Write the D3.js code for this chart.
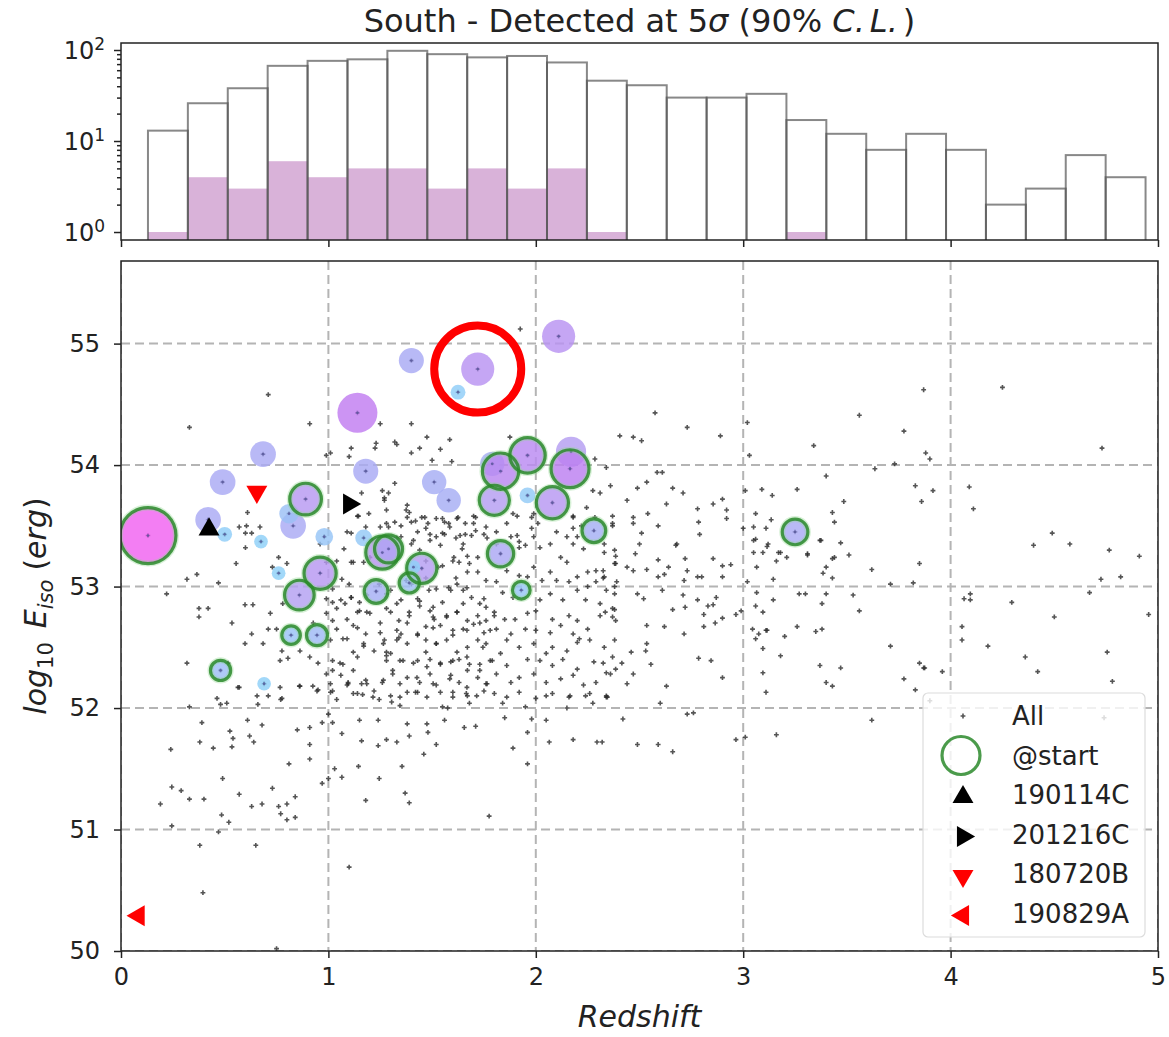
<!doctype html>
<html lang='en'>
<head>
<meta charset='UTF-8'>
<title>South - Detected at 5 sigma</title>
<style>
  body, html { margin: 0; padding: 0; background: #fff; }
  svg { display: block; font-family: 'DejaVu Sans', sans-serif; }
  .grid line { stroke: #b4b4b4; stroke-width: 2; stroke-dasharray: 9,5; }
  .axis path { display: none; }
  .axis line { stroke: #222; stroke-width: 1.5; }
  .axis text { font-size: 24px; fill: #222; font-family: 'DejaVu Sans', sans-serif; }
  .frame { fill: none; stroke: #222; stroke-width: 1.5; }
</style>
</head>
<body>
<script src='https://cdn.jsdelivr.net/npm/d3@7'></script>
<script>
  // ---- histogram (redshift, log counts) ----
  const histLo = 0.13
  const histHi = 4.94
  const histAll = [13, 26, 38, 67, 76, 79, 98, 90, 83, 86, 73, 46, 41, 30, 30, 33, 17, 12, 8, 12, 8, 2, 3, 7, 4]
  const histDet = [1, 4, 3, 6, 4, 5, 5, 3, 5, 3, 5, 1, 0, 0, 0, 0, 1, 0, 0, 0, 0, 0, 0, 0, 0]

  // ---- all GRBs of the population: [redshift, log10 Eiso] ----
  const allGrb = [
    [0.395,50.48],[0.75,50.02],[1.10,50.69],[0.38,50.87],[0.65,50.87],[0.245,51.03],[0.47,50.98],
    [0.19,51.21],[0.245,51.35],[0.29,51.32],[0.33,51.25],[0.40,51.25],[0.485,51.12],[0.52,51.06],[0.49,51.42],
    [0.57,51.29],[0.63,51.19],[0.68,51.21],[0.73,51.34],[0.76,51.19],[0.77,51.13],[0.80,51.21],[0.80,51.08],
    [0.84,51.10],[0.84,51.27],[0.81,51.54],[0.91,51.58],[0.97,51.38],
    [0.24,51.66],[0.38,51.72],[0.39,51.88],[0.445,51.67],[0.525,51.81],[0.54,51.75],[0.535,51.68],[0.61,51.90],
    [0.62,51.77],[0.64,51.72],[0.68,51.86],[0.85,51.82],[0.91,51.84],[0.91,51.70],[0.97,51.88],[1.00,51.95],
    [1.02,51.88],[1.065,51.79],[1.16,51.73],[1.24,51.69],[1.28,51.74],[1.33,51.72],[1.24,51.90],[1.15,51.90],
    [1.00,51.42],[1.03,51.50],[1.065,51.43],[1.145,51.52],[1.18,51.24],[1.245,51.42],
    [0.33,52.01],[0.48,52.03],[0.66,52.03],[0.71,52.10],[0.77,52.07],[0.57,52.17],[0.86,52.18],[0.925,52.18],
    [0.95,52.15],[1.01,52.20],[1.04,52.07],[1.095,52.20],[1.165,52.11],[1.16,52.20],[1.245,52.07],
    [1.355,51.52],[1.37,51.30],[1.39,51.22],[1.46,51.62],[1.52,51.70],[1.48,51.80],[1.39,51.77],[1.38,51.87],
    [1.475,51.87],[1.56,51.90],[1.655,51.84],[1.71,51.85],[1.775,51.11],[1.85,51.92],[1.89,51.67],[1.96,51.80],
    [1.96,51.54],[1.98,51.91],[2.05,51.90],[2.065,51.72],[2.18,51.74],[2.295,51.72],[2.32,51.72],[2.42,51.91],
    [1.305,52.05],[1.345,52.02],[1.55,52.01],[1.575,52.00],[1.68,52.04],[1.665,52.12],[1.84,52.04],[1.95,52.01],
    [2.05,52.10],[2.165,52.10],[2.24,52.10],[2.275,52.04],[2.345,52.09],[2.15,52.00],[1.42,52.13],
    [2.73,51.95],[2.76,51.96],[2.49,51.70],[2.59,51.70],[2.66,51.64],[2.965,51.74],[3.01,51.76],[3.16,51.78],[3.62,51.90],
    [0.22,52.94],[0.318,53.06],[0.366,53.10],[0.47,53.03],[0.376,52.82],[0.42,52.82],[0.376,52.75],[0.598,52.85],
    [0.636,52.85],[0.72,52.78],[0.78,52.86],[0.71,52.65],[0.75,52.65],[0.63,52.61],[0.535,52.70],[0.598,52.53],
    [0.685,52.53],[0.776,52.47],[0.805,52.41],[0.863,52.47],[0.91,52.42],[0.767,52.39],[0.95,52.37],[0.318,52.37],
    [0.516,52.37],[0.564,52.17],[0.767,52.17],[0.863,52.18],[0.945,52.14],[0.776,52.08],[0.463,52.08],[0.656,52.10],
    [0.51,52.04],[1.07,52.57],[1.056,52.37],[1.02,52.31],[1.095,52.21],[1.02,52.14],[0.927,52.70],[1.02,52.72],
    [1.08,52.86],[1.14,52.79],[1.11,52.91],[1.02,52.87],[0.99,52.90],[1.10,53.02],[1.185,52.93],[1.28,52.94],
    [1.185,52.79],[1.25,52.70],[1.30,52.79],[1.33,52.64],[1.265,52.53],[1.28,52.46],[1.33,52.56],[1.38,52.70],
    [1.39,52.79],[1.44,52.88],[1.505,52.83],[1.55,52.87],[1.57,52.75],[1.505,52.66],[1.47,52.56],[1.52,52.53],
    [1.60,52.60],[1.668,52.64],[1.73,52.70],[1.78,52.64],[1.80,52.79],[1.73,52.86],[1.65,52.86],[1.62,52.79],
    [1.745,52.50],[1.668,52.42],[1.60,52.39],[1.54,52.37],[1.475,52.34],[1.41,52.37],[1.345,52.39],[1.31,52.31],
    [1.28,52.39],[1.265,52.23],[1.345,52.20],[1.427,52.25],[1.505,52.20],[1.585,52.24],[1.668,52.17],[1.765,52.20],
    [1.73,52.31],[1.79,52.39],[1.185,52.20],[1.12,52.12],[1.215,52.09],[1.345,52.09],[1.475,52.09],[1.60,52.09],
    [1.715,52.10],[1.14,52.66],[1.17,52.53],[1.12,52.46],[1.505,52.75],
    [0.57,53.49],[0.63,53.44],[0.555,53.19],[0.60,53.32],[0.73,53.16],[0.76,53.24],[0.80,53.19],[0.99,53.20],
    [1.04,53.21],[1.075,53.31],[1.065,53.06],[1.11,53.20],[1.18,53.49],[1.16,53.77],[1.195,53.60],[1.28,53.63],
    [1.32,53.53],[1.375,53.63],[1.40,53.53],[1.45,53.57],[1.52,53.56],[1.47,53.48],[1.55,53.44],[1.58,53.52],
    [1.615,53.40],[1.66,53.52],[1.71,53.46],[1.40,53.35],[1.44,53.30],[1.54,53.34],[1.605,53.24],[1.53,53.16],
    [1.47,53.07],[1.615,53.07],[1.668,52.99],[1.58,52.99],[1.485,52.97],[1.68,53.19],[1.645,53.31],[1.40,53.02],
    [1.375,53.05],[1.245,53.02],[1.21,53.38],[1.11,53.44],[1.42,53.16],[1.47,53.21],
    [1.11,54.14],[1.23,54.18],[1.44,54.14],[1.475,54.23],[0.99,54.08],[1.40,54.10],[1.50,54.04],
    [0.71,54.58],[0.33,54.31],[0.91,54.34],[1.25,54.34],[1.225,54.14],[1.10,54.07],[1.32,54.19],[1.27,53.73],
    [1.29,53.77],[1.145,53.58],[0.61,53.61],[0.605,53.50],[0.67,53.49],[0.60,53.44],[1.01,54.10],[0.96,53.35],
    [1.925,55.12],[2.575,54.43],[2.73,54.31],[2.89,54.24],[3.02,54.35],[1.40,54.34],[1.33,54.17],[1.54,54.13],
    [1.585,54.21],[1.595,54.03],[2.405,54.24],[2.47,54.23],[2.51,54.20],[1.875,54.23],[2.285,54.05],[2.34,53.98],
    [2.36,53.83],[2.49,53.81],[2.535,53.86],[2.585,53.94],[2.61,53.94],[2.275,53.79],[2.245,53.65],[2.18,53.57],
    [2.44,53.71],[2.47,53.57],[2.54,53.60],[2.63,53.68],[2.66,53.81],[2.71,53.77],[2.78,53.64],[2.855,53.68],
    [2.92,53.63],[2.90,53.72],[3.01,53.79],[3.09,53.80],[3.14,53.75],[3.03,54.08],[2.68,53.35],[2.79,53.43],
    [2.92,53.56],[3.00,53.48],[3.11,53.48],[3.05,53.38],[3.12,53.35],[3.06,53.60],[2.37,53.52],[2.18,53.35],
    [1.89,53.60],[1.91,53.42],[1.98,53.57],[1.98,53.48],[2.18,53.48],[2.285,53.57],[2.31,53.77],[1.26,53.79],
    [1.32,53.85],[1.27,53.71],[1.38,53.67],[1.39,53.61],[1.465,53.57],[1.55,53.56],[1.585,53.49],[1.625,53.57],
    [1.70,53.58],[1.70,53.52],[1.635,53.42],[1.49,53.43],[1.41,53.38],[1.33,53.40],[1.29,53.49],[1.765,53.40],
    [1.81,53.35],[1.65,53.35],
    [3.87,54.62],[4.25,54.64],[3.56,54.41],[3.775,54.28],[3.34,54.16],[3.88,54.10],[3.90,54.05],[4.73,54.14],
    [3.635,53.97],[3.73,54.01],[3.40,53.91],[3.83,53.83],[3.915,53.79],[3.86,53.70],[4.09,53.82],[4.11,53.64],
    [3.485,53.70],[3.43,53.61],[3.44,53.53],[3.26,53.80],[3.135,53.55],[3.375,53.38],[3.47,53.36],[3.51,53.26],
    [3.31,53.26],[3.18,53.28],[3.21,53.24],[3.095,53.28],[3.115,53.33],[3.16,53.21],[3.44,53.24],[3.40,53.16],
    [3.385,53.11],[3.43,53.07],[3.62,53.14],[3.85,53.19],[3.82,53.03],[3.71,53.02],[3.145,53.06],[3.30,52.94],
    [3.40,52.94],[3.53,52.93],[3.145,52.89],[3.38,52.86],[3.56,52.80],[3.095,52.79],[3.115,52.64],[3.20,52.59],
    [3.26,52.67],[3.35,52.63],[3.38,52.65],[3.095,52.49],[3.18,52.43],[3.37,52.35],[3.47,52.33],[3.71,52.51],
    [3.85,52.37],[3.87,52.33],[3.96,52.30],[3.775,52.24],[3.095,52.29],
    [4.065,52.90],[4.095,52.94],[4.095,52.89],[4.295,52.87],[4.40,53.34],[4.49,53.44],[4.575,53.35],[4.765,53.30],
    [4.91,53.25],[4.725,53.06],[4.82,53.08],[4.67,52.95],[4.50,52.75],[4.955,52.77],[4.055,52.67],[4.055,52.56],
    [4.18,52.51],[4.755,52.46],[4.36,52.42],[4.42,52.30],[4.74,51.92],[4.78,52.22],[3.90,52.06],
    [2.47,53.52],[2.59,53.50],[2.785,53.53],[2.51,53.44],[2.50,53.35],[2.675,53.34],[2.33,53.28],[2.385,53.25],
    [2.48,53.27],[2.59,53.22],[2.72,53.23],[2.855,53.23],[2.385,53.19],[2.44,53.16],[2.47,53.13],[2.535,53.14],
    [2.59,53.08],[2.62,53.10],[2.64,53.16],[2.73,53.13],[2.90,53.17],[2.94,53.18],[2.325,53.13],[2.325,53.07],
    [2.39,53.04],[2.78,53.08],[2.80,53.08],[2.715,53.05],[2.90,53.08],[3.02,53.04],[3.065,53.16],[3.05,53.28],
    [3.06,53.39],[3.05,53.49],[3.17,53.28],[3.31,53.27],[3.37,53.38],[3.43,53.23],
    [2.38,52.94],[2.49,52.94],[2.52,52.90],[2.61,52.97],[2.71,52.93],[2.78,52.89],[2.83,52.84],[2.87,52.91],
    [2.335,52.79],[2.38,52.81],[2.385,52.72],[2.535,52.68],[2.62,52.67],[2.66,52.81],[2.72,52.83],[2.81,52.77],
    [2.855,52.85],[2.81,52.67],[2.865,52.70],[2.90,52.74],[2.965,52.77],[2.99,52.80],[2.715,52.61],[2.38,52.56],
    [2.535,52.53],[2.53,52.47],[2.46,52.46],[2.325,52.37],[2.385,52.32],[2.415,52.37],[2.47,52.28],[2.555,52.36],
    [2.44,52.20],[2.34,52.10],[2.60,52.04],[2.63,52.18],[2.785,52.41],[2.845,52.39],[2.90,52.25],
    [3.065,52.95],[3.06,52.84],[3.045,52.65],[3.075,52.61],[3.06,52.57],[3.11,52.64],[3.11,52.13],[3.40,52.21],
    [3.43,52.18],[3.27,52.94],[3.83,52.15],[3.875,52.33],
    [1.14,53.58],[1.25,53.49],[1.28,53.52],[1.35,53.50],[1.38,53.57],[1.42,53.54],[1.48,53.52],[1.56,53.53],
    [1.62,53.56],[1.71,53.57],[1.76,53.49],[1.86,53.52],[1.91,53.58],[1.99,53.60],[2.01,53.52],[2.10,53.45],
    [2.18,53.58],[2.22,53.50],[2.37,53.58],[2.37,53.50],[1.09,53.45],[1.12,53.20],[1.17,53.20],[1.20,53.24],
    [1.35,53.41],[1.43,53.45],[1.49,53.38],[1.52,53.41],[1.56,53.43],[1.66,53.43],[1.69,53.42],[1.75,53.43],
    [1.81,53.45],[1.88,53.41],[1.92,53.37],[1.95,53.34],[1.99,53.41],[2.02,53.32],[2.07,53.35],[2.15,53.41],
    [2.20,53.41],[2.23,53.31],[2.33,53.35],[2.38,53.30],[1.63,53.20],[1.60,53.21],[1.67,53.25],[1.72,53.24],
    [1.92,53.32],[2.12,53.24],[2.15,53.20],[2.25,53.12],[2.29,53.13],[2.38,53.19],[2.33,53.08],
    [1.55,53.17],[1.67,53.12],[1.72,53.12],[1.76,53.05],[1.81,53.04],[1.86,53.13],[1.92,53.09],[1.96,53.08],
    [1.99,53.16],[2.03,53.05],[2.07,53.12],[2.10,53.05],[2.16,53.04],[2.20,53.08],[2.25,53.00],[2.29,53.04],
    [2.34,52.97],[2.38,53.00],[1.02,52.98],[1.06,52.89],[1.11,52.91],[1.15,52.87],[1.30,52.97],[1.35,52.89],
    [1.43,52.90],[1.52,52.98],[1.59,52.97],[1.62,53.02],[1.65,52.97],[1.69,52.91],[1.75,52.90],[1.76,52.83],
    [1.84,52.95],[1.89,52.91],[2.02,52.89],[2.07,52.94],[2.13,52.89],[2.20,52.97],[2.24,52.89],[2.31,52.86],[2.37,52.82],
    [0.99,52.78],[1.04,52.82],[1.09,52.73],[1.15,52.80],[1.20,52.78],[1.28,52.82],[1.33,52.86],[1.39,52.76],
    [1.44,52.84],[1.49,52.80],[1.51,52.73],[1.57,52.76],[1.62,52.79],[1.67,52.72],[1.72,52.76],[1.76,52.72],
    [1.80,52.76],[1.85,52.73],[1.90,52.73],[1.96,52.78],[2.00,52.80],[2.08,52.73],[2.16,52.76],[2.20,52.72],
    [2.25,52.65],[2.31,52.76],[2.37,52.75],[1.04,52.65],[1.12,52.68],[1.18,52.61],[1.25,52.62],[1.34,52.72],
    [1.35,52.61],[1.43,52.61],[1.47,52.67],[1.54,52.68],[1.60,52.64],[1.65,52.65],[1.70,52.69],[1.75,52.62],
    [1.81,52.65],[1.88,52.61],[1.95,52.65],[2.00,52.64],[2.07,52.62],[2.12,52.68],[2.18,52.61],[2.21,52.57],
    [1.01,52.56],[1.09,52.57],[1.17,52.51],[1.22,52.47],[1.27,52.56],[1.30,52.45],[1.34,52.58],[1.38,52.53],
    [1.43,52.60],[1.47,52.46],[1.52,52.53],[1.57,52.56],[1.62,52.46],[1.67,52.50],[1.72,52.56],[1.76,52.53],
    [1.83,52.45],[1.86,52.56],[1.92,52.50],[1.99,52.53],[2.05,52.45],[2.08,52.50],[2.15,52.47],[2.20,52.54],
    [2.26,52.56],[2.33,52.50],[2.37,52.42],[1.02,52.39],[1.07,52.36],[1.14,52.42],[1.28,52.43],[1.36,52.39],
    [1.43,52.39],[1.49,52.40],[1.54,52.36],[1.59,52.38],[1.63,52.40],[1.68,52.36],[1.73,52.36],[1.78,52.39],
    [1.86,52.35],[1.96,52.40],[2.02,52.39],[2.08,52.35],[2.13,52.40],[2.20,52.32],[2.28,52.38],[2.34,52.29],
    [0.99,52.28],[1.06,52.27],[1.12,52.31],[1.18,52.23],[1.26,52.21],[1.31,52.28],[1.38,52.25],[1.44,52.21],
    [1.49,52.28],[1.52,52.19],[1.59,52.27],[1.63,52.21],[1.67,52.31],[1.72,52.25],[1.76,52.20],[1.81,52.28],
    [1.88,52.21],[1.92,52.25],[1.99,52.28],[2.05,52.21],[2.12,52.24],[2.18,52.27],[2.23,52.19],[2.29,52.21],
    [2.36,52.28],[1.01,52.13],[1.09,52.19],[1.14,52.12],[1.22,52.14],[1.30,52.10],[1.38,52.13],[1.43,52.13],
    [1.54,52.13],[1.60,52.13],[1.67,52.10],[1.75,52.14],[1.80,52.12],[1.86,52.09],[1.92,52.13],[2.00,52.08],
    [2.08,52.12],[2.16,52.09],[2.26,52.12],[2.34,52.09]
  ]

  // ---- GRBs detected at 5 sigma: redshift, log10 Eiso, marker value, seen at start ----
  const detZ = [0.13, 0.42, 0.50, 0.49, 0.685, 0.675, 0.76, 0.69, 0.48, 0.82, 0.945, 0.86, 0.96, 0.83, 0.81,
                0.89, 0.98, 1.18, 1.17, 1.14, 1.26, 1.29, 1.23, 1.45, 1.39, 1.41, 1.51, 1.58, 1.40, 1.72,
                1.625, 2.11, 1.79, 1.83, 1.96, 2.17, 2.165, 1.80, 1.96, 2.08, 2.28, 1.83, 1.93, 3.25]
  const detE = [53.42, 53.55, 53.43, 53.86, 54.09, 53.37, 53.11, 52.20, 52.31, 52.60, 52.60, 52.93, 53.11, 53.50, 53.60,
                53.72, 53.41, 53.95, 53.40, 54.43, 53.28, 53.31, 52.96, 53.15, 53.03, 53.16, 53.86, 53.71, 54.86, 54.79,
                54.60, 55.06, 54.01, 53.95, 54.08, 54.11, 53.97, 53.71, 53.75, 53.69, 53.46, 53.27, 52.97, 53.45]
  const detV = [1.00, 0.21, 0.07, 0.21, 0.21, 0.06, 0.06, 0.06, 0.13, 0.11, 0.14, 0.28, 0.33, 0.21, 0.12,
                0.32, 0.10, 0.20, 0.09, 0.51, 0.35, 0.25, 0.18, 0.29, 0.13, 0.06, 0.19, 0.19, 0.20, 0.35,
                0.07, 0.35, 0.19, 0.42, 0.40, 0.29, 0.46, 0.29, 0.08, 0.33, 0.18, 0.22, 0.10, 0.21]
  const detStart = [1, 0, 0, 0, 0, 0, 0, 0, 1, 1, 1, 1, 1, 0, 0,
                    1, 0, 0, 0, 0, 1, 1, 1, 1, 1, 0, 0, 0, 0, 0,
                    0, 0, 0, 1, 1, 0, 1, 1, 0, 1, 1, 1, 1, 1]

  // ---- named GRBs ----
  const grbNames = ['190114C', '201216C', '180720B', '190829A']
  const grbZ = [0.4245, 1.10, 0.655, 0.085]
  const grbE = [53.47, 53.68, 53.78, 50.29]
  const circledGrb = 29   // index in det arrays of the highlighted burst

  const w = 1169
  const h = 1037
  const main = {left: 121, right: 1158, top: 261, bottom: 951}
  const hist = {top: 43, bottom: 240}

  const x = d3.scaleLinear().domain([0, 5]).range([main.left, main.right])
  const y = d3.scaleLinear().domain([50, 55.68]).range([main.bottom, main.top])
  const yh = d3.scaleLog().domain([0.817, 119.4]).range([hist.bottom, hist.top])
  const r = d3.scaleSqrt().domain([0, 1]).range([0, 28])
  const color = d3.scaleLinear()
    .domain([0.06, 0.13, 0.2, 0.3, 0.45, 1])
    .range(['#8dd0f8', '#9dbdf5', '#a8aaf4', '#b69df2', '#bb80f0', '#f062f0'])

  const markerStyle = {
    '190114C': {fill: '#000', rot: 0},
    '201216C': {fill: '#000', rot: 90},
    '180720B': {fill: '#f00', rot: 180},
    '190829A': {fill: '#f00', rot: -90}
  }
  const tri = d3.symbol().type(d3.symbolTriangle).size(190)
  const dotShape = d3.symbol().type(d3.symbolCross).size(13)

  const svg = d3.select('body').append('svg')
    .attr('width', w)
    .attr('height', h)

  const defs = svg.append('defs')
  defs.append('clipPath').attr('id', 'clipMain')
    .append('rect')
    .attr('x', main.left).attr('y', main.top)
    .attr('width', main.right - main.left).attr('height', main.bottom - main.top)
  defs.append('clipPath').attr('id', 'clipHist')
    .append('rect')
    .attr('x', main.left).attr('y', hist.top)
    .attr('width', main.right - main.left).attr('height', hist.bottom - hist.top)

  /******************** title ********************/
  const title = svg.append('text')
    .attr('x', (main.left + main.right) / 2)
    .attr('y', 32)
    .attr('text-anchor', 'middle')
    .style('font-size', '32px')
    .style('fill', '#222')
  title.append('tspan').text('South - Detected at 5')
  title.append('tspan').style('font-style', 'italic').text('σ')
  title.append('tspan').text(' (90% ')
  title.append('tspan').style('font-style', 'italic').text('C.')
  title.append('tspan').attr('dx', 5).style('font-style', 'italic').text('L.')
  title.append('tspan').attr('dx', 5).text(')')

  /******************** histogram ********************/
  const binW = (histHi - histLo) / histAll.length
  const hg = svg.append('g').attr('clip-path', 'url(#clipHist)')

  hg.selectAll('.det-bar')
    .data(histDet.map((v, i) => ({v, i})).filter(d => d.v > 0))
    .enter().append('rect')
    .attr('x', d => x(histLo + d.i * binW))
    .attr('width', d => x(histLo + (d.i + 1) * binW) - x(histLo + d.i * binW))
    .attr('y', d => yh(d.v))
    .attr('height', d => hist.bottom + 5 - yh(d.v))
    .style('fill', 'purple')
    .style('fill-opacity', 0.3)

  hg.selectAll('.all-bar')
    .data(histAll.map((v, i) => ({v, i})))
    .enter().append('rect')
    .attr('x', d => x(histLo + d.i * binW))
    .attr('width', d => x(histLo + (d.i + 1) * binW) - x(histLo + d.i * binW))
    .attr('y', d => yh(d.v))
    .attr('height', d => hist.bottom + 5 - yh(d.v))
    .style('fill', 'none')
    .style('stroke', '#555')
    .style('stroke-opacity', 0.7)
    .style('stroke-width', 2)

  svg.append('rect').attr('class', 'frame')
    .attr('x', main.left).attr('y', hist.top)
    .attr('width', main.right - main.left).attr('height', hist.bottom - hist.top)

  svg.append('g').attr('class', 'axis')
    .attr('transform', `translate(0, ${hist.bottom})`)
    .call(d3.axisBottom(x).ticks(5).tickSize(7).tickFormat(''))

  svg.append('g').attr('class', 'axis')
    .attr('transform', `translate(${main.left}, 0)`)
    .call(d3.axisLeft(yh).tickValues([2, 3, 4, 5, 6, 7, 8, 9, 20, 30, 40, 50, 60, 70, 80, 90]).tickSize(4).tickFormat(''))

  const yhAxis = svg.append('g').attr('class', 'axis')
    .attr('transform', `translate(${main.left}, 0)`)
    .call(d3.axisLeft(yh).tickValues([1, 10, 100]).tickSize(7).tickPadding(10).tickFormat(''))
  yhAxis.selectAll('.tick').append('text')
    .attr('x', -16).attr('dy', '0.35em')
    .attr('text-anchor', 'end')
    .each(function(d) {
      const t = d3.select(this)
      t.append('tspan').text('10')
      t.append('tspan').attr('dy', '-0.5em').style('font-size', '17px').text(Math.round(Math.log10(d)))
    })

  /******************** main scatter ********************/
  const mg = svg.append('g').attr('clip-path', 'url(#clipMain)')

  mg.append('g').attr('class', 'grid')
    .selectAll('line.v').data(x.ticks(5)).enter().append('line')
    .attr('x1', d => x(d)).attr('x2', d => x(d))
    .attr('y1', main.top).attr('y2', main.bottom)
  mg.select('.grid')
    .selectAll('line.h').data(d3.range(50, 56)).enter().append('line')
    .attr('x1', main.left).attr('x2', main.right)
    .attr('y1', d => y(d)).attr('y2', d => y(d))

  mg.selectAll('.dot')
    .data(allGrb.concat(detZ.map((z, i) => [z, detE[i]])))
    .enter().append('path')
    .attr('d', dotShape)
    .attr('transform', d => `translate(${x(d[0])}, ${y(d[1])})`)
    .style('fill', '#2a2a2a')
    .style('opacity', 0.8)

  const det = detZ.map((z, i) => ({z, e: detE[i], v: detV[i], start: detStart[i]}))

  mg.selectAll('.det')
    .data(det)
    .enter().append('circle')
    .attr('cx', d => x(d.z))
    .attr('cy', d => y(d.e))
    .attr('r', d => r(d.v))
    .style('fill', d => color(d.v))
    .style('fill-opacity', 0.82)

  mg.selectAll('.det-center')
    .data(det)
    .enter().append('circle')
    .attr('cx', d => x(d.z))
    .attr('cy', d => y(d.e))
    .attr('r', 1.4)
    .style('fill', '#4c4c90')
    .style('opacity', 0.75)

  const rings = det.filter(d => d.start)
  mg.selectAll('.ring-halo')
    .data(rings)
    .enter().append('circle')
    .attr('cx', d => x(d.z))
    .attr('cy', d => y(d.e))
    .attr('r', d => r(d.v))
    .style('fill', 'none')
    .style('stroke', '#8fd68f')
    .style('stroke-opacity', 0.35)
    .style('stroke-width', 6)
  mg.selectAll('.ring')
    .data(rings)
    .enter().append('circle')
    .attr('cx', d => x(d.z))
    .attr('cy', d => y(d.e))
    .attr('r', d => r(d.v))
    .style('fill', 'none')
    .style('stroke', '#2b8a2b')
    .style('stroke-opacity', 0.85)
    .style('stroke-width', 3.2)

  mg.selectAll('.named')
    .data(grbNames)
    .enter().append('path')
    .attr('d', tri)
    .attr('transform', (d, i) => `translate(${x(grbZ[i])}, ${y(grbE[i])}) rotate(${markerStyle[d].rot})`)
    .style('fill', d => markerStyle[d].fill)

  // highlight of one burst
  mg.append('circle')
    .attr('cx', x(detZ[circledGrb]))
    .attr('cy', y(detE[circledGrb]))
    .attr('r', 43.5)
    .style('fill', 'none')
    .style('stroke', '#f00')
    .style('stroke-width', 8)

  svg.append('rect').attr('class', 'frame')
    .attr('x', main.left).attr('y', main.top)
    .attr('width', main.right - main.left).attr('height', main.bottom - main.top)

  svg.append('g').attr('class', 'axis')
    .attr('transform', `translate(0, ${main.bottom})`)
    .call(d3.axisBottom(x).ticks(5).tickSize(7).tickPadding(10).tickFormat(d3.format('d')))

  svg.append('g').attr('class', 'axis')
    .attr('transform', `translate(${main.left}, 0)`)
    .call(d3.axisLeft(y).tickValues(d3.range(50, 56)).tickSize(7).tickPadding(14).tickFormat(d3.format('d')))

  // axis titles
  svg.append('text')
    .attr('x', (main.left + main.right) / 2)
    .attr('y', 1027)
    .attr('text-anchor', 'middle')
    .style('font-size', '30px')
    .style('font-style', 'italic')
    .style('fill', '#222')
    .text('Redshift')

  const ylab = svg.append('text')
    .attr('transform', `translate(46, ${(main.top + main.bottom) / 2}) rotate(-90)`)
    .attr('text-anchor', 'middle')
    .style('font-size', '30px')
    .style('fill', '#222')
  ylab.append('tspan').style('font-style', 'italic').text('log')
  ylab.append('tspan').attr('dy', 7).style('font-size', '21px').text('10')
  ylab.append('tspan').attr('dy', -7).attr('dx', 14).style('font-style', 'italic').text('E')
  ylab.append('tspan').attr('dy', 7).style('font-size', '21px').style('font-style', 'italic').text('iso')
  ylab.append('tspan').attr('dy', -7).attr('dx', 9).text('(')
  ylab.append('tspan').style('font-style', 'italic').text('erg')
  ylab.append('tspan').text(')')

  /******************** legend ********************/
  const lg = svg.append('g').attr('transform', 'translate(923, 693)')
  lg.append('rect')
    .attr('width', 222).attr('height', 244).attr('rx', 5)
    .style('fill', '#fff').style('fill-opacity', 0.8)
    .style('stroke', '#dcdcdc').style('stroke-width', 1.2)

  const legendRows = ['All', '@start'].concat(grbNames)
  const row = lg.selectAll('.lrow')
    .data(legendRows)
    .enter().append('g')
    .attr('transform', (d, i) => `translate(0, ${23 + i * 39.5})`)
  row.append('text')
    .attr('x', 89).attr('dy', '0.36em')
    .style('font-size', '26px')
    .style('fill', '#222')
    .text(d => d)
  row.filter(d => d === 'All').append('path')
    .attr('d', dotShape).attr('transform', 'translate(40, 0)')
    .style('fill', '#2a2a2a').style('opacity', 0.8)
  row.filter(d => d === '@start').append('circle')
    .attr('cx', 38).attr('r', 19)
    .style('fill', 'none').style('stroke', '#2b8a2b').style('stroke-opacity', 0.85).style('stroke-width', 3.2)
  row.filter(d => markerStyle[d]).append('path')
    .attr('d', tri)
    .attr('transform', d => `translate(40, 2) rotate(${markerStyle[d].rot})`)
    .style('fill', d => markerStyle[d].fill)
</script>
</body>
</html>
